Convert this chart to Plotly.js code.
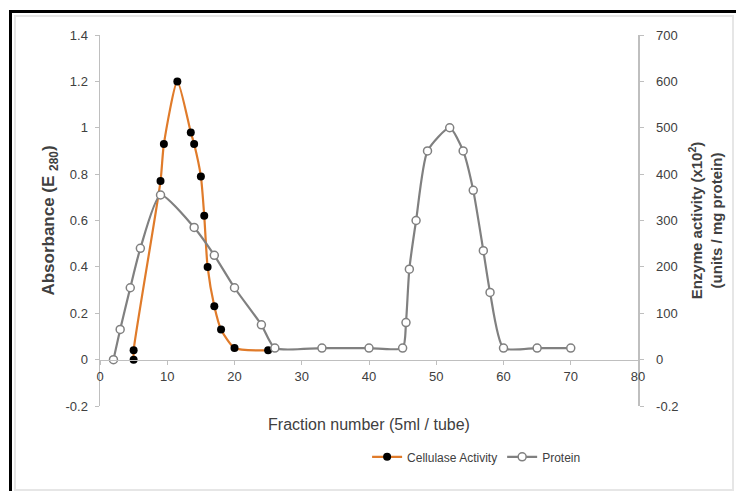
<!DOCTYPE html>
<html>
<head>
<meta charset="utf-8">
<script src="https://cdn.plot.ly/plotly-3.0.1.min.js"></script>
<style>
  html, body { margin: 0; padding: 0; background: #fff; }
  #wrap { position: relative; width: 736px; height: 491px; overflow: hidden; }
  #chart { position: absolute; left: 0; top: 0; width: 736px; height: 491px; }
  #frameOuter { position: absolute; left: 9px; top: 10px; width: 740px; height: 490px;
    border-left: 3px solid #000; border-top: 3px solid #000; pointer-events: none; }
  #frameInner { position: absolute; left: 14px; top: 15px; width: 716px; height: 472px;
    border: 2px solid #e6e6e6; pointer-events: none; }
</style>
</head>
<body>
<div id="wrap">
  <div id="chart"></div>
  <div id="frameOuter"></div>
  <div id="frameInner"></div>
</div>
<script>
// Cellulase activity (plotted against the left scale; 0.2 = 100 units on the right)
const cellX = [5, 5, 9, 9.5, 11.5, 13.5, 14, 15, 15.5, 16, 17, 18, 20, 25];
const cellY = [0, 0.04, 0.77, 0.93, 1.2, 0.98, 0.93, 0.79, 0.62, 0.40, 0.23, 0.13, 0.05, 0.04];

// Protein absorbance (E280)
const protX = [2, 3, 4.5, 6, 9, 14, 17, 20, 24, 26, 33, 40, 45, 45.5, 46, 47, 48.7, 52, 54, 55.5, 57, 58, 60, 65, 70];
const protY = [0, 0.13, 0.31, 0.48, 0.71, 0.57, 0.45, 0.31, 0.15, 0.05, 0.05, 0.05, 0.05, 0.16, 0.39, 0.60, 0.90, 1.0, 0.90, 0.73, 0.47, 0.29, 0.05, 0.05, 0.05];

const leftTicks = [-0.2, 0, 0.2, 0.4, 0.6, 0.8, 1, 1.2, 1.4];
const leftLabels = ['-0.2', '0', '0.2', '0.4', '0.6', '0.8', '1', '1.2', '1.4'];
const rightLabels = ['-0.2', '0', '100', '200', '300', '400', '500', '600', '700'];
const xTicks = [0, 10, 20, 30, 40, 50, 60, 70, 80];

const FONT = 'Liberation Sans Narrow, Liberation Sans, Arial, sans-serif';
const TXT = '#404040';
const AX = '#bfbfbf';

const traces = [
  {
    x: cellX, y: cellY, name: 'Cellulase Activity', type: 'scatter', mode: 'lines+markers',
    line: { color: '#e07b2a', width: 2.2, shape: 'spline', smoothing: 0.6 },
    marker: { color: '#000', size: 8, line: { color: '#000', width: 0 } }
  },
  {
    x: protX, y: protY, name: 'Protein', type: 'scatter', mode: 'lines+markers',
    line: { color: '#808080', width: 2.2, shape: 'spline', smoothing: 0.6 },
    marker: { color: '#fff', size: 8, line: { color: '#808080', width: 1.5 } }
  },
  {
    x: [0], y: [0], yaxis: 'y2', showlegend: false, hoverinfo: 'skip', mode: 'markers',
    marker: { opacity: 0 }
  }
];

const layout = {
  width: 736, height: 491,
  margin: { l: 100, r: 98, t: 35, b: 85 },
  paper_bgcolor: '#fff', plot_bgcolor: '#fff',
  font: { family: FONT, color: TXT, size: 12 },
  showlegend: true,
  legend: {
    orientation: 'h', x: 0.70, y: -0.137, xanchor: 'center', yanchor: 'middle',
    font: { family: FONT, size: 12, color: TXT }, bgcolor: 'rgba(0,0,0,0)'
  },
  xaxis: {
    range: [0, 80], tickvals: xTicks, ticktext: xTicks.map(String),
    showgrid: false, zeroline: false, showline: true, linecolor: AX, linewidth: 1.5,
    ticks: 'outside', ticklen: 4, tickcolor: AX,
    anchor: 'free', position: 0.125,
    tickfont: { family: FONT, size: 13, color: TXT },
    title: { text: 'Fraction number (5ml / tube)', font: { family: FONT, size: 16, color: TXT }, standoff: 36 }
  },
  yaxis: {
    range: [-0.2, 1.4], tickvals: leftTicks, ticktext: leftLabels,
    showgrid: false, zeroline: false, showline: true, linecolor: AX, linewidth: 1.5,
    ticks: 'outside', ticklen: 4, tickcolor: AX, ticklabelstandoff: 4,
    tickfont: { family: FONT, size: 13, color: TXT },
    title: { text: '<b>Absorbance (E <sub>280</sub>)</b>', font: { family: FONT, size: 17, color: TXT }, standoff: 6 }
  },
  yaxis2: {
    range: [-0.2, 1.4], tickvals: leftTicks, ticktext: rightLabels,
    overlaying: 'y', side: 'right',
    showgrid: false, zeroline: false, showline: true, linecolor: AX, linewidth: 1.5,
    ticks: 'outside', ticklen: 4, tickcolor: AX, ticklabelstandoff: 10,
    tickfont: { family: FONT, size: 13, color: TXT },
    title: { text: '<b>Enzyme activity (x10<sup>2</sup>)<br>(units / mg protein)</b>', font: { family: FONT, size: 15, color: TXT }, standoff: 14 }
  }
};

Plotly.newPlot('chart', traces, layout, { staticPlot: true, displayModeBar: false });
</script>
</body>
</html>
